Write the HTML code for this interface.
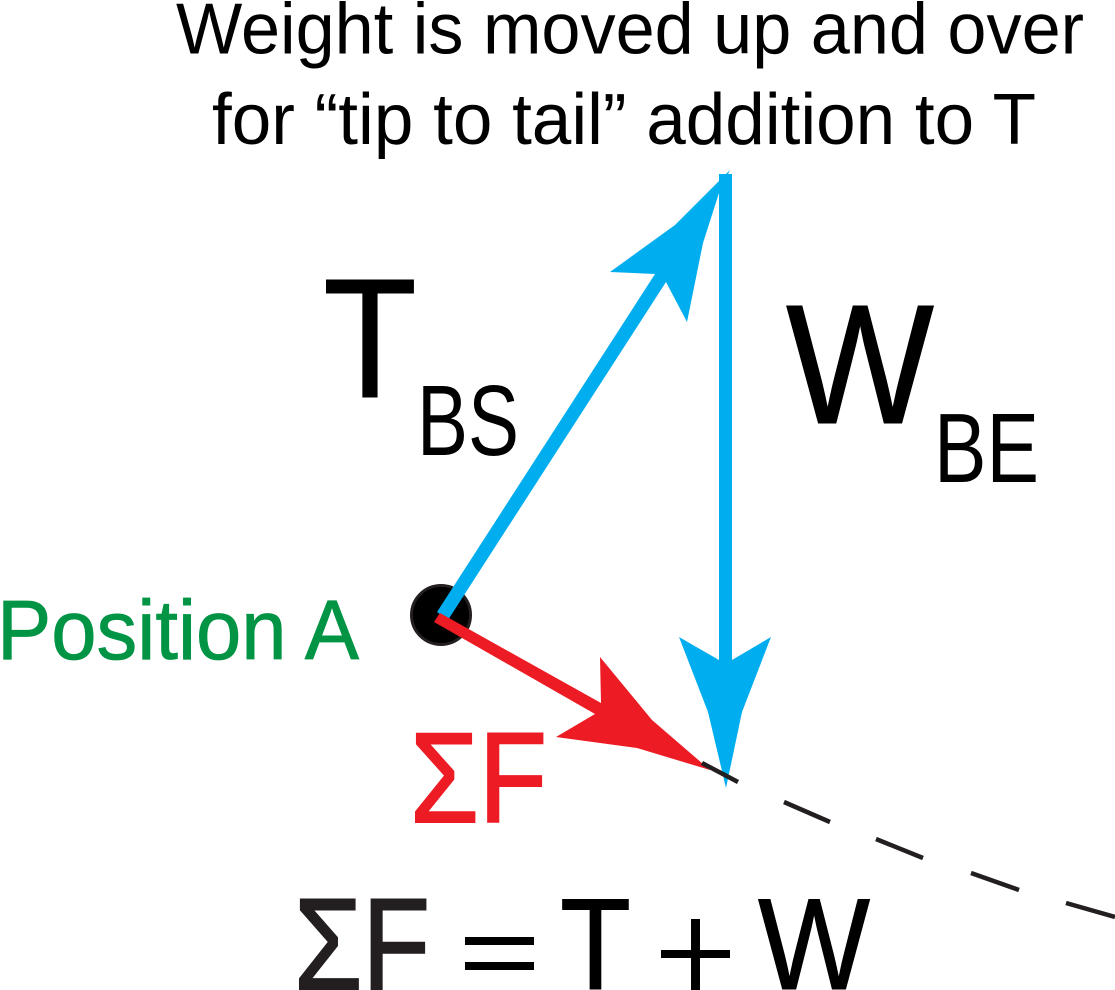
<!DOCTYPE html>
<html>
<head>
<meta charset="utf-8">
<style>
html,body{margin:0;padding:0;background:#fff;width:1115px;height:990px;overflow:hidden}
svg{display:block}
text{font-family:"Liberation Sans",sans-serif}
</style>
</head>
<body>
<svg width="1115" height="990" viewBox="0 0 1115 990" xmlns="http://www.w3.org/2000/svg">
<rect width="1115" height="990" fill="#fff"/>
<text x="176" y="53.5" font-size="72" textLength="908" lengthAdjust="spacingAndGlyphs">Weight is moved up and over</text>
<text x="212" y="144" font-size="72" textLength="824" lengthAdjust="spacingAndGlyphs">for “tip to tail” addition to T</text>
<text x="323" y="397" font-size="170" stroke="#000" stroke-width="1" textLength="94" lengthAdjust="spacingAndGlyphs">T</text>
<text x="417" y="455" font-size="100" textLength="102" lengthAdjust="spacingAndGlyphs">BS</text>
<text x="786" y="423" font-size="170" stroke="#000" stroke-width="1" textLength="148" lengthAdjust="spacingAndGlyphs">W</text>
<text x="934" y="482" font-size="98" textLength="105" lengthAdjust="spacingAndGlyphs">BE</text>
<text x="-3" y="659" font-size="84" fill="#009444" stroke="#009444" stroke-width="0.8" textLength="362" lengthAdjust="spacingAndGlyphs">Position A</text>
<text x="410" y="822" font-size="128" fill="#ed1c24" stroke="#ed1c24" stroke-width="2" textLength="137" lengthAdjust="spacingAndGlyphs">ΣF</text>
<text x="294" y="989" font-size="130" fill="#231f20" stroke="#231f20" stroke-width="2" textLength="136" lengthAdjust="spacingAndGlyphs">ΣF</text>
<rect x="465" y="937" width="69" height="8" fill="#000"/>
<rect x="465" y="962" width="69" height="8" fill="#000"/>
<text x="560" y="989" font-size="130" stroke="#000" stroke-width="1" textLength="71" lengthAdjust="spacingAndGlyphs">T</text>
<rect x="691" y="919" width="9" height="71" fill="#000"/>
<rect x="661" y="950" width="69" height="8" fill="#000"/>
<text x="758" y="989" font-size="130" stroke="#000" stroke-width="1" textLength="112" lengthAdjust="spacingAndGlyphs">W</text>
<circle cx="441" cy="615" r="29.5" fill="#000" stroke="#231f20" stroke-width="3"/>
<polygon fill="#00aeef" points="437,612 655,274 610,272 675,225 730,170 719,193 703,243 687,322 666,282 448,620"/>
<polygon fill="#00aeef" points="719,174 732,174 732,660 771,637 742,712 726,788 708,712 679,637 719,660"/>
<polygon fill="#ed1c24" points="440,613 601,703 600,657 652,720 710,770 637,748 556,737 595,714 434,622"/>
<g stroke="#231f20" stroke-width="4.5" fill="none">
<line x1="702" y1="763" x2="738" y2="782"/>
<line x1="784" y1="802" x2="830" y2="822"/>
<line x1="876" y1="839" x2="923" y2="858"/>
<line x1="971" y1="873" x2="1019" y2="890"/>
<line x1="1066" y1="903" x2="1115" y2="917"/>
</g>
</svg>
</body>
</html>
